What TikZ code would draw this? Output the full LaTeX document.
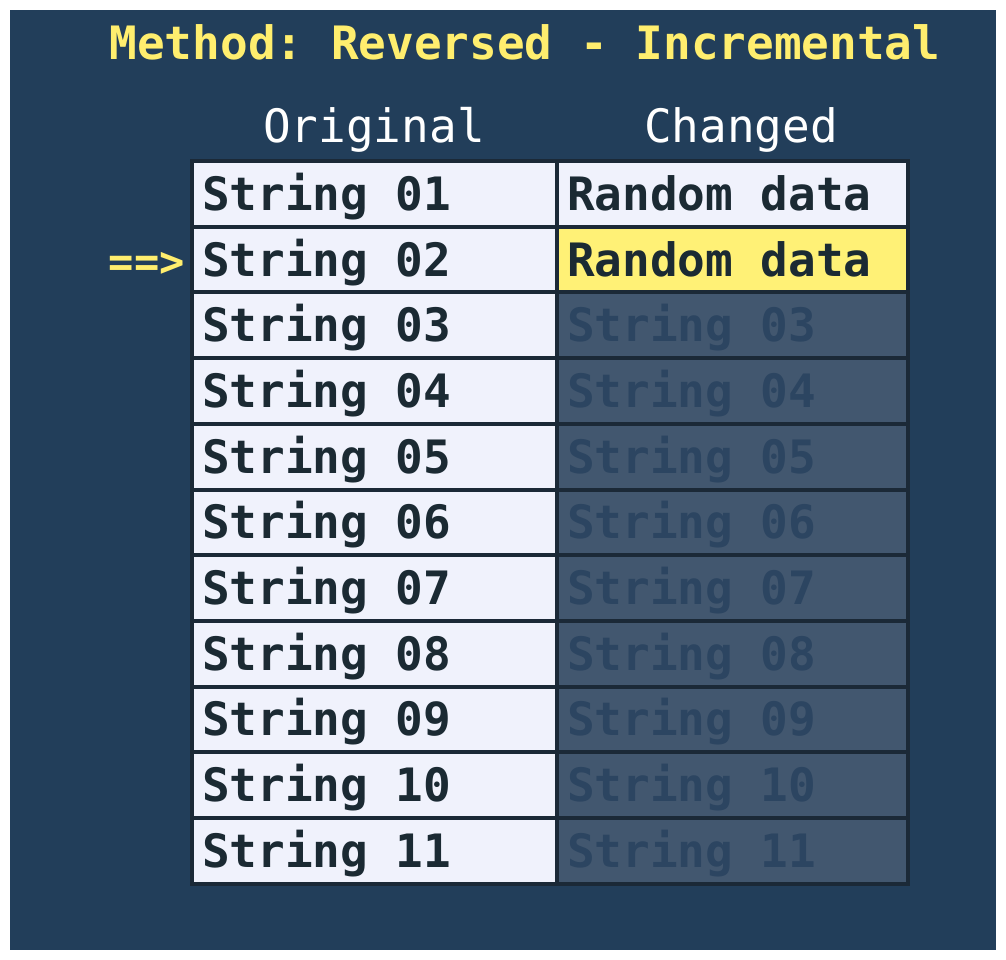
\documentclass[tikz,border=0pt]{standalone}
\usepackage{fontspec}
\setmonofont[WordSpace={1,0,0},RawFeature=+zero]{DejaVu Sans Mono}

\definecolor{bgblue}{HTML}{223E5A}
\definecolor{celllight}{HTML}{F0F2FC}
\definecolor{celldim}{HTML}{42576F}
\definecolor{textdim}{HTML}{2C4561}
\definecolor{textdark}{HTML}{1B2A33}
\definecolor{cellline}{HTML}{1B2937}
\definecolor{hilite}{HTML}{FFF176}
\definecolor{titleyellow}{HTML}{FFEE6E}

\newcommand\cellfont{\ttfamily\bfseries\fontsize{46}{50}\selectfont}
\newcommand\headfont{\ttfamily\fontsize{46}{50}\selectfont}

\tikzset{
  cell/.style={draw=cellline,line width=4pt,anchor=north west,outer sep=0pt,
    minimum height=65.7pt,inner ysep=0pt,inner xsep=10pt,align=left,
    text height=33pt,text depth=0pt,font=\cellfont,text=textdark,
    execute at begin node={\spaceskip=0pt\xspaceskip=0pt}},
  origcell/.style={cell,fill=celllight,text width=345pt},
  chgcell/.style={cell,text width=331pt},
}

\begin{document}
\begin{tikzpicture}[x=1pt,y=-1pt]
\useasboundingbox (0,0) rectangle (1006,960);
\fill[white] (0,0) rectangle (1006,960);
\fill[bgblue] (10,10) rectangle (996,950);

\node[font=\cellfont,text=titleyellow,anchor=base] (title) at (525,60)
  {Method: Reversed - Incremental};
\node[font=\headfont,text=white,anchor=base] (hOrig) at (374,143) {Original};
\node[font=\headfont,text=white,anchor=base] (hChg) at (741,143) {Changed};

% original column
\foreach \i in {1,...,11} {
  \pgfmathsetmacro\y{161+(\i-1)*65.7}
  \node[origcell] (orig\i) at (192,\y) {String \ifnum\i<10 0\fi\i};
}

% changed column
\node[chgcell,fill=celllight] (chg1) at (557,161) {Random data};
\node[chgcell,fill=hilite] (chg2) at (557,226.7) {Random data};
\foreach \i in {3,...,11} {
  \pgfmathsetmacro\y{161+(\i-1)*65.7}
  \node[chgcell,fill=celldim,text=textdim] (chg\i) at (557,\y)
    {String \ifnum\i<10 0\fi\i};
}

\node[font=\ttfamily\bfseries\fontsize{42}{46}\selectfont,text=titleyellow,
  anchor=base east,inner sep=0pt] (pointer) at (185,276) {==>};
\end{tikzpicture}
\end{document}
